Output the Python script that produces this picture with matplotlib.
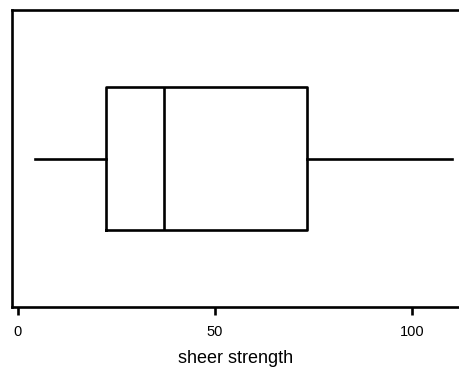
import matplotlib.pyplot as plt

plt.rcParams['font.family'] = ['Liberation Sans', 'DejaVu Sans']

# five-number summary of shear strength
whisker_low = 4.4
q1 = 22.3
median = 37.0
q3 = 73.3
whisker_high = 110.2
ticks = [0, 50, 100]

fig = plt.figure(figsize=(4.59, 3.71), dpi=100)
ax = fig.add_axes([0.0261, 0.1725, 0.9739, 0.8005])

stats = [{'whislo': whisker_low, 'q1': q1, 'med': median, 'q3': q3,
          'whishi': whisker_high, 'fliers': []}]
lw = 1.9
ax.bxp(stats, positions=[1], widths=0.48, vert=False, showcaps=False,
       boxprops=dict(color='black', linewidth=lw),
       whiskerprops=dict(color='black', linewidth=lw),
       medianprops=dict(color='black', linewidth=lw))

ax.set_xlim(-1.52, 112.0)
ax.set_ylim(0.5, 1.5)
ax.set_yticks([])
ax.set_xticks(ticks)
ax.set_xticklabels([str(t) for t in ticks], fontsize=10.5)
ax.tick_params(axis='x', length=6, width=lw, pad=7)
ax.spines['right'].set_visible(False)
for s in ['left', 'top', 'bottom']:
    ax.spines[s].set_linewidth(lw)
ax.set_xlabel('sheer strength', fontsize=13, labelpad=8)

fig.savefig('out.png', dpi=100)
